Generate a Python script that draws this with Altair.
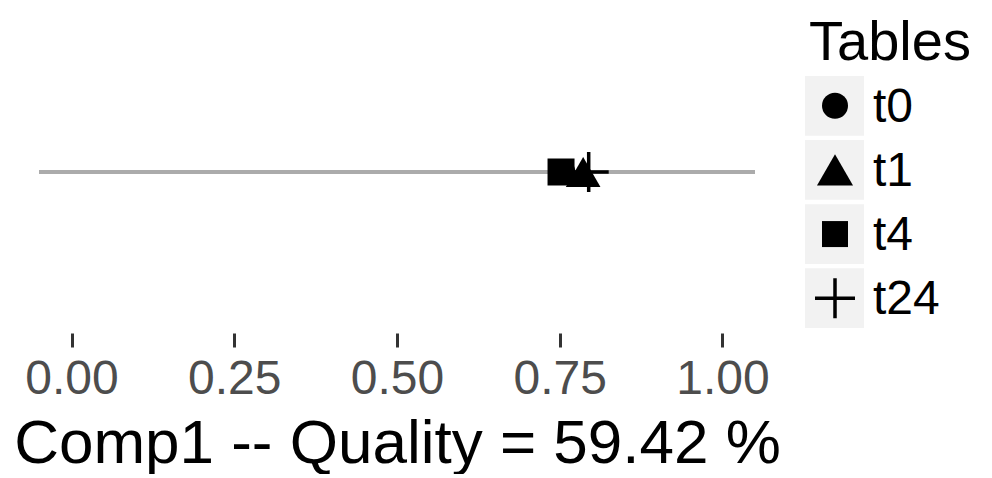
import altair as alt
import pandas as pd

# ---- data ----
tables = ["t0", "t1", "t4", "t24"]
comp1_values = [0.754, 0.786, 0.752, 0.7945]
axis_title = "Comp1 -- Quality = 59.42 %"
legend_title = "Tables"
x_domain = [-0.05, 1.05]
x_ticks = [0.0, 0.25, 0.5, 0.75, 1.0]

# ---- styles (not data) ----
shapes = ["circle", "triangle-up", "square", "M-1,0L1,0M0,-1L0,1"]
sizes = [676, 1200, 729, 1600]
legend_sizes = [676, 1300, 676, 1600]

FONT = "Liberation Sans"

df = pd.DataFrame({
    "table": tables,
    "value": comp1_values,
    "y": [0] * len(tables),
    "shape": shapes,
    "size": sizes,
    "lsize": legend_sizes,
})
filled_df = df[df["table"] != "t24"]
plus_df = df[df["table"] == "t24"]

x_enc = alt.X(
    "value:Q",
    scale=alt.Scale(domain=x_domain, nice=False, zero=False),
    axis=alt.Axis(
        title=axis_title,
        values=x_ticks,
        format=".2f",
        grid=False,
        domain=False,
        ticks=True,
        tickColor="#333333",
        tickSize=14,
        tickWidth=3,
        labelFont=FONT,
        labelFontSize=48,
        labelColor="#4d4d4d",
        labelPadding=8,
        titleFont=FONT,
        titleFontSize=62,
        titleFontWeight="normal",
        titleColor="black",
        titlePadding=10,
    ),
)
y_scale = alt.Scale(domain=[-1, 1])
y_enc = alt.Y("y:Q", scale=y_scale, axis=None)

line = alt.Chart(pd.DataFrame({"y": [0]})).mark_rule(color="#ABABAB", strokeWidth=4).encode(y=y_enc)

filled_pts = alt.Chart(filled_df).mark_point(filled=True, color="black", opacity=1).encode(
    x=x_enc,
    y=y_enc,
    shape=alt.Shape("shape:N", scale=None),
    size=alt.Size("size:Q", scale=None),
)
plus_pts = alt.Chart(plus_df).mark_point(
    filled=False, color="black", opacity=1, strokeWidth=3.5, shape="M-1,0L1,0M0,-1L0,1"
).encode(
    x=x_enc,
    y=y_enc,
    size=alt.Size("size:Q", scale=None),
)

main = alt.layer(line, filled_pts, plus_pts).properties(width=716, height=322)

# ---- custom legend ----
leg_y = alt.Y("table:N", scale=alt.Scale(domain=tables, range=[65, 317], paddingInner=0.07, paddingOuter=0), axis=None)

keys = alt.Chart(df).mark_rect(color="#f2f2f2").encode(
    y=leg_y, x=alt.value(0), x2=alt.value(59)
)
key_filled = alt.Chart(filled_df).mark_point(filled=True, color="black", opacity=1).encode(
    y=leg_y,
    x=alt.value(30),
    shape=alt.Shape("shape:N", scale=None),
    size=alt.Size("lsize:Q", scale=None),
)
key_plus = alt.Chart(plus_df).mark_point(
    filled=False, color="black", opacity=1, strokeWidth=3.5, shape="M-1,0L1,0M0,-1L0,1"
).encode(
    y=leg_y,
    x=alt.value(30),
    size=alt.Size("lsize:Q", scale=None),
)
key_labels = alt.Chart(df).mark_text(align="left", baseline="middle", font=FONT, fontSize=48, color="black", dy=2).encode(
    y=leg_y, x=alt.value(68), text="table:N"
)
title_txt = alt.Chart(pd.DataFrame({"t": [legend_title]})).mark_text(
    align="left", baseline="alphabetic", font=FONT, fontSize=56, color="black"
).encode(x=alt.value(4), y=alt.value(49), text="t:N")

legend = alt.layer(keys, key_filled, key_plus, key_labels, title_txt).properties(width=150, height=322)

chart = alt.hconcat(main, legend, spacing=50, bounds="flush").properties(
    padding={"left": 5, "top": 3, "right": 0, "bottom": 0},
    background="white",
).configure_view(strokeWidth=0)

chart.save("out.html", embed_options={"renderer": "svg", "actions": False})
